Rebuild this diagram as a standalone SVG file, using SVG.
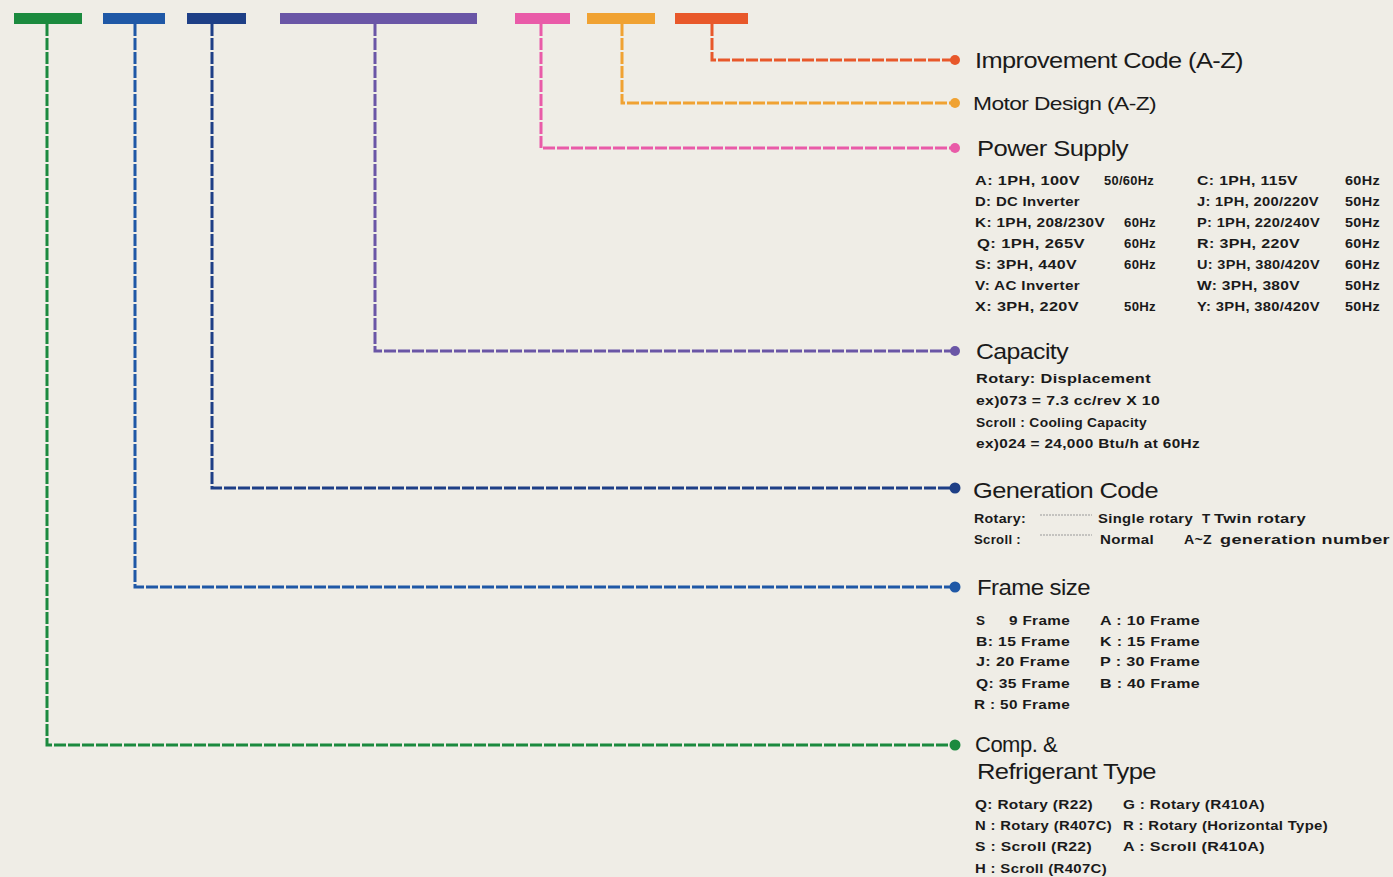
<svg xmlns="http://www.w3.org/2000/svg" width="1393" height="877" viewBox="0 0 1393 877">
<style>
.h{font-family:"Liberation Sans",Arial,sans-serif;font-size:22px;fill:#1a1a1a;letter-spacing:-0.5px}
.hm{font-family:"Liberation Sans",Arial,sans-serif;font-size:19px;fill:#1a1a1a;letter-spacing:-0.5px}
.t{font-family:"Liberation Sans",Arial,sans-serif;font-size:13.5px;font-weight:bold;fill:#1a1a1a;letter-spacing:0.3px}
.ln{fill:none;stroke-width:3;stroke-dasharray:12 2}
.dot{stroke:none}
.bar{stroke:none}
</style>
<rect x="0" y="0" width="1393" height="877" fill="#efede6"/>
<g id="bars">
<rect class="bar" x="14" y="13" width="68" height="11" fill="#1b8a3e"/>
<rect class="bar" x="103" y="13" width="62" height="11" fill="#1f58a6"/>
<rect class="bar" x="187" y="13" width="59" height="11" fill="#1e3f86"/>
<rect class="bar" x="280" y="13" width="197" height="11" fill="#6a56a6"/>
<rect class="bar" x="515" y="13" width="55" height="11" fill="#e95ba8"/>
<rect class="bar" x="587" y="13" width="68" height="11" fill="#f0a232"/>
<rect class="bar" x="675" y="13" width="73" height="11" fill="#e8582a"/>
</g>
<g id="connectors">
<path class="ln" d="M47,24 V745 H955" stroke="#1b8a3e"/>
<path class="ln" d="M135,24 V587 H955" stroke="#1f58a6"/>
<path class="ln" d="M212,24 V488 H955" stroke="#1e3f86"/>
<path class="ln" d="M375,24 V351 H955" stroke="#6a56a6"/>
<path class="ln" d="M541,24 V148 H955" stroke="#e95ba8"/>
<path class="ln" d="M622,24 V103 H955" stroke="#f0a232"/>
<path class="ln" d="M712,24 V60 H955" stroke="#e8582a"/>
<circle class="dot" cx="955" cy="745" r="5.5" fill="#1b8a3e"/>
<circle class="dot" cx="955" cy="587" r="5.5" fill="#1f58a6"/>
<circle class="dot" cx="955" cy="488" r="5.5" fill="#1e3f86"/>
<circle class="dot" cx="955" cy="351" r="5" fill="#6a56a6"/>
<circle class="dot" cx="955" cy="148" r="5" fill="#e95ba8"/>
<circle class="dot" cx="955" cy="103" r="5" fill="#f0a232"/>
<circle class="dot" cx="955" cy="60" r="5" fill="#e8582a"/>
</g>
<g id="improvement">
<text class="h" x="975" y="68" textLength="268" lengthAdjust="spacingAndGlyphs">Improvement Code (A-Z)</text>
</g>
<g id="motor">
<text class="hm" x="973" y="110" textLength="183" lengthAdjust="spacingAndGlyphs">Motor Design (A-Z)</text>
</g>
<g id="power">
<text class="h" x="977" y="156" textLength="151" lengthAdjust="spacingAndGlyphs">Power Supply</text>
<text class="t" x="975" y="185" textLength="105" lengthAdjust="spacingAndGlyphs">A: 1PH, 100V</text><text class="t" x="1104" y="185" textLength="50" lengthAdjust="spacingAndGlyphs">50/60Hz</text><text class="t" x="1197" y="185" textLength="101" lengthAdjust="spacingAndGlyphs">C: 1PH, 115V</text><text class="t" x="1345" y="185" textLength="35" lengthAdjust="spacingAndGlyphs">60Hz</text>
<text class="t" x="975" y="206" textLength="105" lengthAdjust="spacingAndGlyphs">D: DC Inverter</text><text class="t" x="1197" y="206" textLength="122" lengthAdjust="spacingAndGlyphs">J: 1PH, 200/220V</text><text class="t" x="1345" y="206" textLength="35" lengthAdjust="spacingAndGlyphs">50Hz</text>
<text class="t" x="975" y="227" textLength="130" lengthAdjust="spacingAndGlyphs">K: 1PH, 208/230V</text><text class="t" x="1124" y="227" textLength="32" lengthAdjust="spacingAndGlyphs">60Hz</text><text class="t" x="1197" y="227" textLength="123" lengthAdjust="spacingAndGlyphs">P: 1PH, 220/240V</text><text class="t" x="1345" y="227" textLength="35" lengthAdjust="spacingAndGlyphs">50Hz</text>
<text class="t" x="977" y="248" textLength="108" lengthAdjust="spacingAndGlyphs">Q: 1PH, 265V</text><text class="t" x="1124" y="248" textLength="32" lengthAdjust="spacingAndGlyphs">60Hz</text><text class="t" x="1197" y="248" textLength="103" lengthAdjust="spacingAndGlyphs">R: 3PH, 220V</text><text class="t" x="1345" y="248" textLength="35" lengthAdjust="spacingAndGlyphs">60Hz</text>
<text class="t" x="975" y="269" textLength="102" lengthAdjust="spacingAndGlyphs">S: 3PH, 440V</text><text class="t" x="1124" y="269" textLength="32" lengthAdjust="spacingAndGlyphs">60Hz</text><text class="t" x="1197" y="269" textLength="123" lengthAdjust="spacingAndGlyphs">U: 3PH, 380/420V</text><text class="t" x="1345" y="269" textLength="35" lengthAdjust="spacingAndGlyphs">60Hz</text>
<text class="t" x="975" y="290" textLength="105" lengthAdjust="spacingAndGlyphs">V: AC Inverter</text><text class="t" x="1197" y="290" textLength="103" lengthAdjust="spacingAndGlyphs">W: 3PH, 380V</text><text class="t" x="1345" y="290" textLength="35" lengthAdjust="spacingAndGlyphs">50Hz</text>
<text class="t" x="975" y="311" textLength="104" lengthAdjust="spacingAndGlyphs">X: 3PH, 220V</text><text class="t" x="1124" y="311" textLength="32" lengthAdjust="spacingAndGlyphs">50Hz</text><text class="t" x="1197" y="311" textLength="123" lengthAdjust="spacingAndGlyphs">Y: 3PH, 380/420V</text><text class="t" x="1345" y="311" textLength="35" lengthAdjust="spacingAndGlyphs">50Hz</text>
</g>
<g id="capacity">
<text class="h" x="976" y="359" textLength="92" lengthAdjust="spacingAndGlyphs">Capacity</text>
<text class="t" x="976" y="383" textLength="175" lengthAdjust="spacingAndGlyphs">Rotary: Displacement</text>
<text class="t" x="976" y="405" textLength="184" lengthAdjust="spacingAndGlyphs">ex)073 = 7.3 cc/rev X 10</text>
<text class="t" x="976" y="427" textLength="171" lengthAdjust="spacingAndGlyphs">Scroll : Cooling Capacity</text>
<text class="t" x="976" y="448" textLength="224" lengthAdjust="spacingAndGlyphs">ex)024 = 24,000 Btu/h at 60Hz</text>
</g>
<g id="generation">
<text class="h" x="973" y="498" textLength="185" lengthAdjust="spacingAndGlyphs">Generation Code</text>
<text class="t" x="974" y="523" textLength="52" lengthAdjust="spacingAndGlyphs">Rotary:</text>
<line x1="1040" y1="515" x2="1092" y2="515" stroke="#999" stroke-width="1" stroke-dasharray="2 1"/>
<text class="t" x="1098" y="523" textLength="95" lengthAdjust="spacingAndGlyphs">Single rotary</text><text class="t" x="1202" y="523">T</text><text class="t" x="1214" y="523" textLength="92" lengthAdjust="spacingAndGlyphs">Twin rotary</text>
<text class="t" x="974" y="544" textLength="47" lengthAdjust="spacingAndGlyphs">Scroll :</text>
<line x1="1040" y1="535" x2="1092" y2="535" stroke="#999" stroke-width="1" stroke-dasharray="2 1"/>
<text class="t" x="1100" y="544" textLength="54" lengthAdjust="spacingAndGlyphs">Normal</text><text class="t" x="1184" y="544" textLength="28" lengthAdjust="spacingAndGlyphs">A~Z</text><text class="t" x="1220" y="544" textLength="170" lengthAdjust="spacingAndGlyphs">generation number</text>
</g>
<g id="frame">
<text class="h" x="977" y="595" textLength="113" lengthAdjust="spacingAndGlyphs">Frame size</text>
<text class="t" x="976" y="625">S</text><text class="t" x="1009" y="625" textLength="61" lengthAdjust="spacingAndGlyphs">9 Frame</text><text class="t" x="1100" y="625" textLength="100" lengthAdjust="spacingAndGlyphs">A : 10 Frame</text>
<text class="t" x="976" y="646" textLength="94" lengthAdjust="spacingAndGlyphs">B: 15 Frame</text><text class="t" x="1100" y="646" textLength="100" lengthAdjust="spacingAndGlyphs">K : 15 Frame</text>
<text class="t" x="976" y="666" textLength="94" lengthAdjust="spacingAndGlyphs">J: 20 Frame</text><text class="t" x="1100" y="666" textLength="100" lengthAdjust="spacingAndGlyphs">P : 30 Frame</text>
<text class="t" x="976" y="688" textLength="94" lengthAdjust="spacingAndGlyphs">Q: 35 Frame</text><text class="t" x="1100" y="688" textLength="100" lengthAdjust="spacingAndGlyphs">B : 40 Frame</text>
<text class="t" x="974" y="709" textLength="96" lengthAdjust="spacingAndGlyphs">R : 50 Frame</text>
</g>
<g id="comp">
<text class="h" x="975" y="752">Comp. &amp;</text>
<text class="h" x="977" y="779" textLength="179" lengthAdjust="spacingAndGlyphs">Refrigerant Type</text>
<text class="t" x="975" y="809" textLength="118" lengthAdjust="spacingAndGlyphs">Q: Rotary (R22)</text><text class="t" x="1123" y="809" textLength="142" lengthAdjust="spacingAndGlyphs">G : Rotary (R410A)</text>
<text class="t" x="975" y="830" textLength="137" lengthAdjust="spacingAndGlyphs">N : Rotary (R407C)</text><text class="t" x="1123" y="830" textLength="205" lengthAdjust="spacingAndGlyphs">R : Rotary (Horizontal Type)</text>
<text class="t" x="975" y="851" textLength="117" lengthAdjust="spacingAndGlyphs">S : Scroll (R22)</text><text class="t" x="1123" y="851" textLength="142" lengthAdjust="spacingAndGlyphs">A : Scroll (R410A)</text>
<text class="t" x="975" y="873" textLength="132" lengthAdjust="spacingAndGlyphs">H : Scroll (R407C)</text>
</g>
</svg>
